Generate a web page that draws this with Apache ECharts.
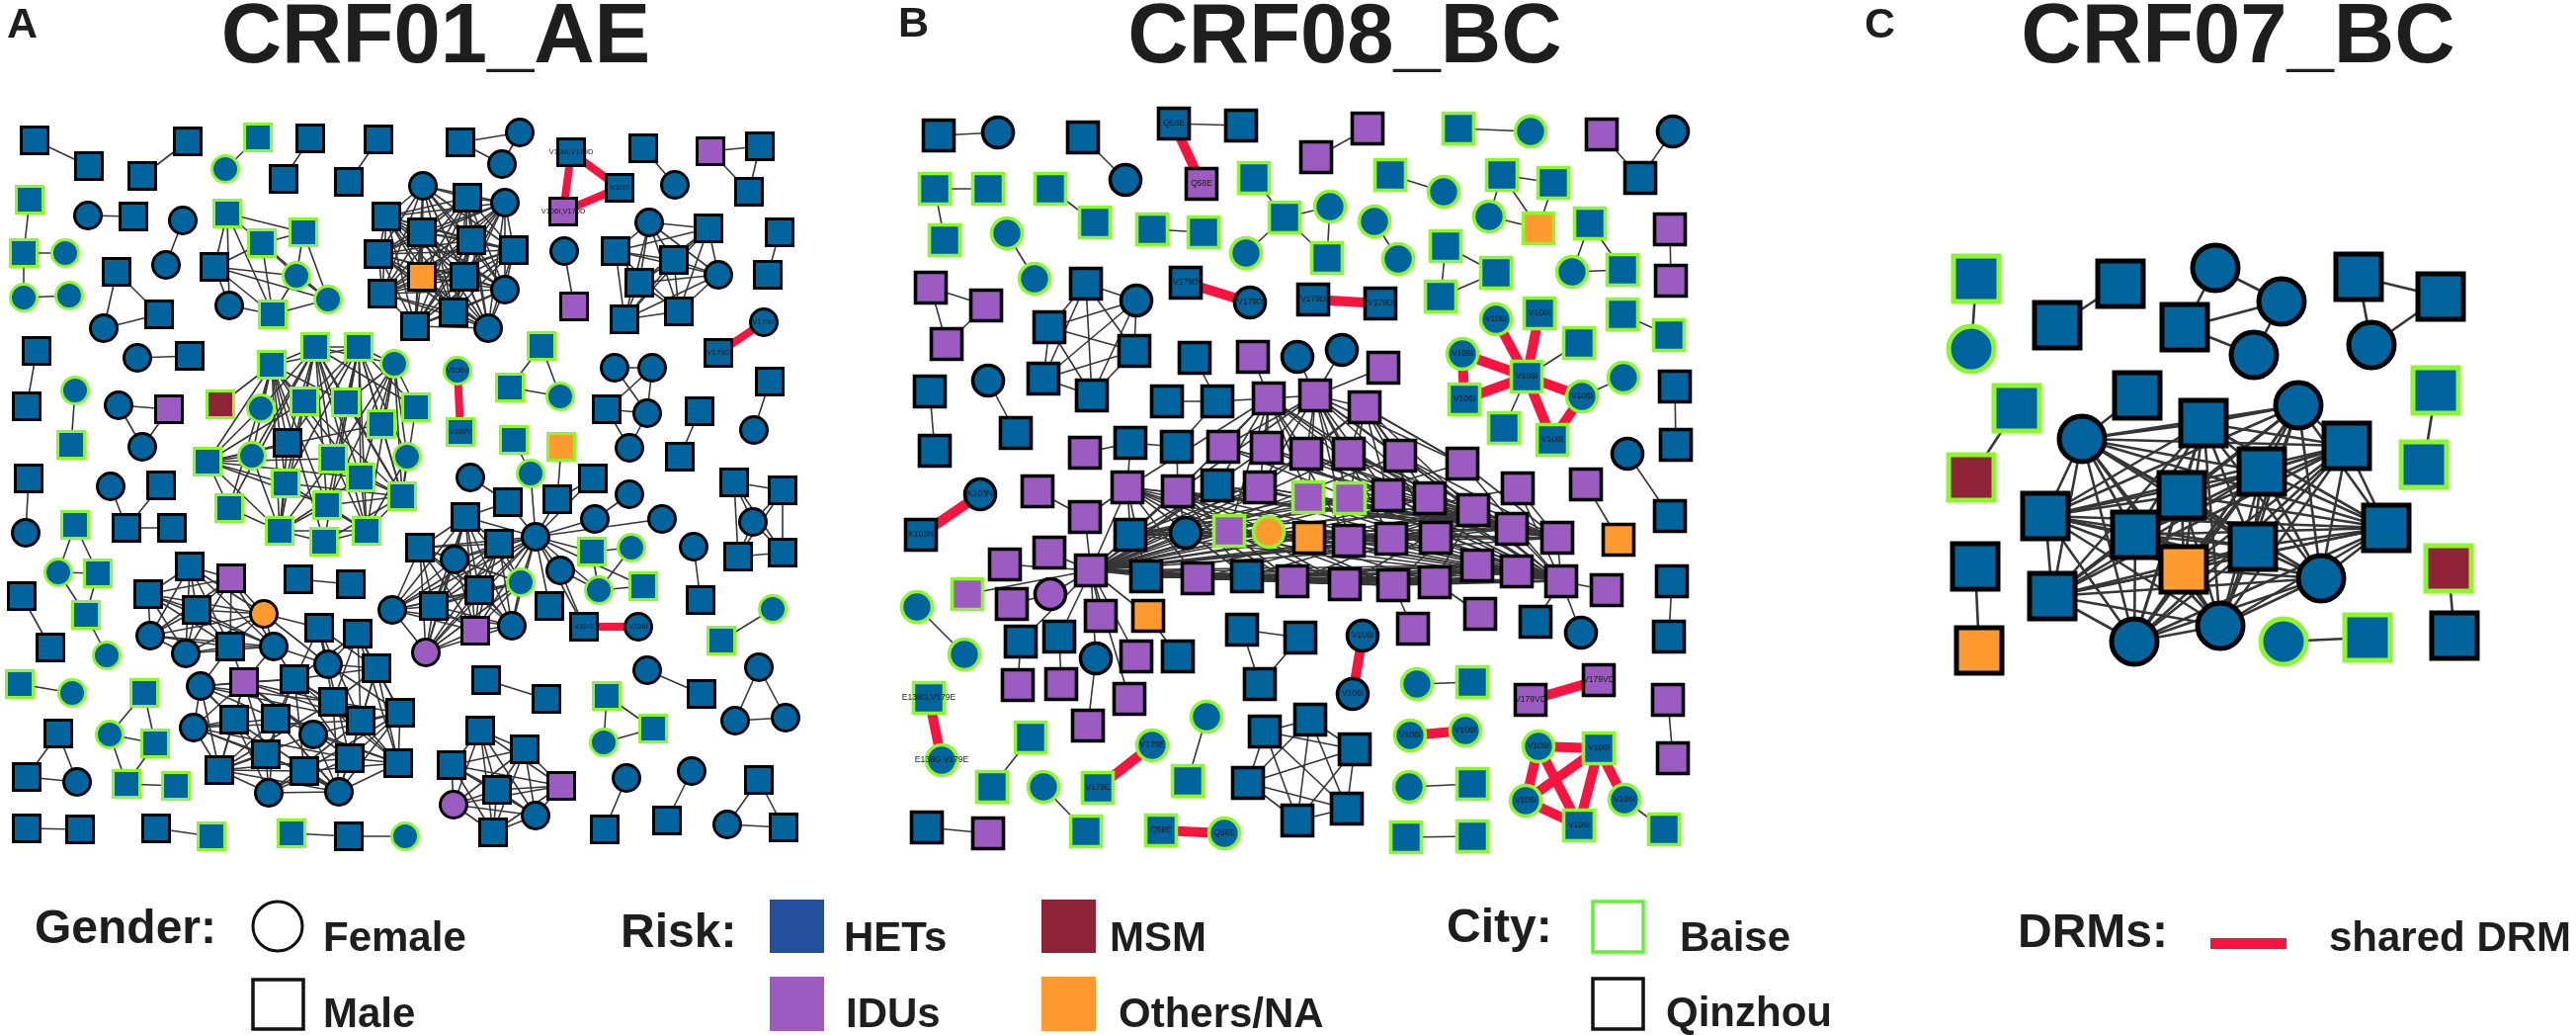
<!DOCTYPE html>
<html lang="en">
  <head>
    <meta charset="UTF-8" />
    <title>CRF01_AE, CRF08_BC, CRF07_BC transmission networks</title>
    <style>
      html, body { margin: 0; padding: 0; background: #fff; }
      #chart { width: 2607px; height: 1047px; }
    </style>
  </head>
  <body>
  <div id="chart"></div>
  <script src="https://cdn.jsdelivr.net/npm/echarts@6/dist/echarts.min.js"></script>
  <script>
    // node = [x, y, shape+risk+city, label]   s/c  H/I/M/O  B/Q
    // cluster = [nodes, black links, red links]
    // links: "0-1" one edge, "0,1,2" every pair of those, "3>0,1,2" 3 to each of those, "all" every pair of the cluster
    var clustersA = [
      [[[35,142,'sHQ'],[90,168,'sHQ']], '0-1'],
      [[[190,143,'sHQ'],[144,178,'sHQ']], '0-1'],
      [[[261,139,'sHB'],[228,171,'cHB']], '0-1'],
      [[[314,140,'sHQ'],[287,181,'sHQ']], '0-1'],
      [[[383,141,'sHQ'],[353,184,'sHQ']], '0-1'],
      [[[466,144,'sHQ'],[526,134,'cHQ'],[508,166,'cHQ']], 'all'],
      [[[578,154,'sHQ','V106I,V179D'],[627,190,'sHQ','V106I'],[570,214,'sIQ','V106I,V179D']], '', 'all'],
      [[[651,150,'sHQ'],[683,187,'cHQ']], '0-1'],
      [[[719,153,'sIQ'],[769,148,'sHQ'],[758,194,'sHQ']], 'all'],
      [[[30,202,'sHB'],[24,256,'sHB'],[66,256,'cHB'],[24,301,'cHB'],[70,299,'cHB']], '0-1 1-2 1-3 3-4'],
      [[[89,218,'cHQ'],[135,219,'sHQ']], '0-1'],
      [[[185,223,'cHQ'],[168,268,'cHQ']], '0-1'],
      [[[118,275,'sHQ'],[161,318,'sHQ'],[105,332,'cHQ']], 'all'],
      [[[230,216,'sHB'],[307,235,'sHB'],[265,246,'sHB'],[217,270,'sHQ'],[300,279,'cHB'],[332,303,'cHB'],[232,309,'cHQ'],[276,318,'sHB']],
        '0-1 0-2 0-3 0-7 1-2 1-4 1-5 2-3 2-4 2-5 2-7 3-4 3-5 3-6 3-7 4-5 4-7 5-7 6-7 0-6'],
      [[[428,188,'cHQ'],[473,200,'sHQ'],[511,205,'cHQ'],[391,219,'sHQ'],[427,235,'sHQ'],[477,243,'sHQ'],[520,253,'sHQ'],[383,257,'sHQ'],
        [427,280,'sOQ'],[470,280,'sHQ'],[511,293,'cHQ'],[387,297,'sHQ'],[459,316,'sHQ'],[420,330,'sHQ'],[494,332,'cHQ']], 'all'],
      [[[571,254,'cHQ'],[581,310,'sIQ']], '0-1'],
      [[[657,225,'cHQ'],[717,231,'sHQ'],[623,254,'sHQ'],[682,263,'sHQ'],[727,278,'cHQ'],[647,286,'sHQ'],[687,315,'sHQ'],[632,323,'sHQ']], 'all'],
      [[[789,235,'sHQ'],[777,278,'sHQ']], '0-1'],
      [[[773,326,'cHQ','V179D'],[727,357,'sHQ','V179D']], '', '0-1'],
      [[[37,355,'sHQ'],[27,411,'sHQ']], '0-1'],
      [[[139,362,'cHQ'],[192,360,'sHQ']], '0-1'],
      [[[76,395,'cHB'],[72,450,'sHB']], '0-1'],
      [[[120,410,'cHQ'],[171,414,'sIQ'],[144,452,'cHQ']], 'all'],
      [[[275,369,'sHB'],[319,351,'sHB'],[363,351,'sHB'],[399,368,'cHB'],[223,409,'sMB'],[264,413,'cHB'],[308,406,'sHB'],[350,407,'sHB'],
        [421,412,'sHB'],[386,429,'sHB'],[291,448,'sHQ'],[210,467,'sHB'],[255,461,'cHB'],[337,464,'sHB'],[412,462,'cHB'],[289,489,'sHB'],
        [365,483,'sHB'],[407,502,'sHB'],[232,514,'sHB'],[331,511,'sHB'],[283,537,'sHB'],[371,537,'sHB'],[328,548,'sHB']],
        '0>1,2,4,5,6,7,10,11,12,13,15,16,18,19,20,22 1>2,3,5,6,7,8,10,12,13,15,16,17,18,19,20,21 ' +
        '2>3,6,7,8,9,10,13,14,15,16,17,19,21,22 3>7,8,9,13,14,16,17,19,21 ' +
        '11>5,6,10,12,13,15,16,18,19,20,9 17>6,7,9,13,14,15,16,19,21,22,8 20>10,12,13,15,16,18,19,21,22 21>13,14,15,16,19,22'],
      [[[463,375,'cHB','V106V'],[466,437,'sHB','V106V']], '', '0-1'],
      [[[548,350,'sHB'],[516,392,'sHB'],[567,401,'cHB']], 'all'],
      [[[622,372,'cHQ'],[660,372,'cHQ'],[614,414,'sHQ'],[655,418,'cHQ'],[637,453,'cHQ']], '0-1 0-3 1-3 1-2 2-3 2-4 3-4'],
      [[[779,386,'sHQ'],[763,435,'cHQ']], '0-1'],
      [[[708,416,'sHQ'],[688,462,'sHQ']], '0-1'],
      [[[29,484,'sHQ'],[26,539,'cHQ']], '0-1'],
      [[[112,492,'cHQ'],[163,491,'sHQ'],[128,534,'sHQ'],[174,534,'sHQ']], '0-2 1-2 2-3'],
      [[[568,452,'sOB'],[537,479,'cHB'],[600,484,'sHQ'],[476,483,'cHQ'],[514,508,'sHQ'],[564,505,'sHQ'],[637,500,'cHQ'],[471,523,'sHQ'],
        [602,525,'cHQ'],[670,525,'cHQ'],[425,554,'sHQ'],[505,550,'sHQ'],[542,543,'cHQ'],[460,566,'cHQ'],[599,558,'sHB'],[639,554,'cHB'],
        [567,577,'cHQ'],[485,597,'sHQ'],[527,589,'cHB'],[606,597,'cHB'],[651,593,'sHB'],[556,613,'sHQ'],[439,613,'sHQ'],[397,617,'cHQ'],
        [591,634,'sHQ','V106I'],[646,634,'cHQ','V106I'],[481,638,'sIQ'],[518,633,'cHQ'],[431,660,'cIQ'],[520,445,'sHB']],
        '29-1 1-12 0-5 5-12 2-12 2-5 4-12 7-12 8-12 9-12 6-8 3-4 4-7 11-12 10-12 13-12 14-12 16-12 17-12 18-12 19-12 20-12 21-12 22-12 23-12 24-12 26-12 27-12 28-12 14-15 14-19 15-19 19-20 16-24 16-19 ' +
        '7,10,11,13,17,18,22,23,26,27,28', '24-25'],
      [[[743,488,'sHQ'],[792,496,'sHQ'],[762,528,'cHQ'],[747,563,'sHQ'],[792,559,'sHQ']], 'all'],
      [[[702,553,'cHQ'],[709,607,'sHQ']], '0-1'],
      [[[782,616,'cHB'],[730,648,'sHB']], '0-1'],
      [[[76,531,'sHB'],[59,579,'cHB'],[99,580,'sHB'],[87,622,'sHB'],[108,663,'cHB']], '0-1 0-2 1-2 1-3 2-3 3-4'],
      [[[22,603,'sHQ'],[51,655,'sHQ']], '0-1'],
      [[[192,573,'sHQ'],[234,585,'sIQ'],[150,601,'sHQ'],[199,617,'sHQ'],[267,621,'cOQ'],[152,643,'cHQ'],[188,661,'cHQ'],[233,654,'sHQ'],[277,654,'cHQ'],
        [323,635,'sHQ'],[362,641,'sHQ'],[332,672,'cHQ'],[381,676,'sHQ'],[203,694,'cHQ'],[247,690,'sIQ'],[298,687,'sHQ'],[337,710,'sHQ'],[405,721,'sHQ'],
        [196,736,'cHQ'],[237,728,'sHQ'],[279,727,'sHQ'],[365,729,'sHQ'],[317,743,'cHQ'],[269,763,'sHQ'],[354,767,'sHQ'],[403,772,'sHQ'],[222,779,'sHQ'],
        [308,780,'sHQ'],[343,801,'cHQ'],[272,802,'cHQ']],
        '0,1,2,3,4,5,6,7,8 4-9 4-11 8-11 8-15 7-14 8-14 7-13 ' +
        '9>11,12,15,16,21,24 10>11,12,15,16,17,21,25 12>11,15,16,17,21,24,25 13>14,18,19,20,23,26,15,16,21 17>11,16,21,24,25,28,27,22 ' +
        '18>14,19,20,23,26,27,24,21 26>14,19,20,23,27,24,28,29,16,22 25>16,21,24,27,28,22,15,20 28>27,29,24,23,22,16,21,20,19,14 29>27,23,24,20,19,21 ' +
        '14>15,16,19,20,21,22,23,24 15>16,20,21,23,24,27'],
      [[[302,586,'sHQ'],[355,591,'sHQ']], '0-1'],
      [[[20,692,'sHB'],[73,701,'cHB']], '0-1'],
      [[[146,701,'sHB'],[111,743,'cHB'],[157,752,'sHB'],[128,793,'sHB'],[178,795,'sHB']], '0-1 0-2 1-2 1-3 2-3 3-4'],
      [[[59,742,'sHQ'],[27,786,'sHQ'],[78,791,'cHQ']], 'all'],
      [[[492,688,'sHQ'],[553,707,'sHQ']], '0-1'],
      [[[655,678,'cHQ'],[710,702,'sHQ']], '0-1'],
      [[[768,675,'cHQ'],[744,729,'cHQ'],[795,726,'cHQ']], 'all'],
      [[[614,704,'sHB'],[661,737,'sHB'],[611,751,'cHB']], 'all'],
      [[[486,739,'sHQ'],[531,758,'sHQ'],[457,774,'sHQ'],[568,795,'sIQ'],[503,799,'sHQ'],[459,814,'cIQ'],[542,825,'cHQ'],[499,842,'sHQ']], 'all'],
      [[[634,787,'cHQ'],[612,839,'sHQ']], '0-1'],
      [[[700,780,'cHQ'],[675,830,'sHQ']], '0-1'],
      [[[768,789,'sHQ'],[736,834,'cHQ'],[793,837,'sHQ']], 'all'],
      [[[27,838,'sHQ'],[81,839,'sHQ']], '0-1'],
      [[[158,838,'sHQ'],[214,846,'sHB']], '0-1'],
      [[[295,843,'sHB'],[353,846,'sHQ'],[410,846,'cHB']], '0-1 1-2']
    ];

    var clustersB = [
      [[[950,137,'sHQ'],[1010,134,'cHQ']], '0-1'],
      [[[1096,139,'sHQ'],[1139,182,'cHQ']], '0-1'],
      [[[1188,125,'sHQ','Q58E'],[1256,127,'sHQ'],[1216,186,'sIQ','Q58E']], '0-1', '0-2'],
      [[[1332,159,'sIQ'],[1384,130,'sIQ']], '0-1'],
      [[[1476,130,'sHB'],[1549,133,'cHB']], '0-1'],
      [[[1621,136,'sIQ'],[1693,133,'cHQ'],[1660,180,'sHQ']], '0-2 1-2'],
      [[[946,191,'sHB'],[1000,191,'sHB'],[956,243,'sHB']], '0-1 0-2'],
      [[[1063,191,'sHB'],[1108,225,'sHB']], '0-1'],
      [[[1166,232,'sHB'],[1218,235,'sHB']], '0-1'],
      [[[1269,180,'sHB'],[1300,220,'sHB'],[1346,209,'cHB'],[1343,261,'sHB'],[1261,256,'cHB']], '0-1 1-2 1-3 1-4 2-3'],
      [[[1391,224,'cHB'],[1415,262,'cHB']], '0-1'],
      [[[1407,177,'sHB'],[1461,194,'cHB']], '0-1'],
      [[[1520,177,'sHB'],[1572,185,'sHB'],[1507,219,'cHB'],[1557,231,'sOB']], '0-1 0-2 0-3 1-3 2-3'],
      [[[1609,226,'sHB'],[1591,275,'cHB'],[1642,273,'sHB']], 'all'],
      [[[1690,232,'sIQ'],[1691,284,'sIQ']], '0-1'],
      [[[1019,236,'cHB'],[1047,282,'cHB']], '0-1'],
      [[[942,291,'sIQ'],[998,309,'sIQ'],[958,348,'sIQ']], 'all'],
      [[[1099,287,'sHQ'],[1150,304,'cHQ'],[1062,331,'sHQ'],[1148,355,'sHQ'],[1056,383,'sHQ'],[1105,400,'sHQ']], 'all'],
      [[[1200,286,'sHQ','V179D'],[1265,306,'cHQ','V179D']], '', '0-1'],
      [[[1329,303,'sHQ','V179D'],[1397,307,'sHQ','V179D']], '', '0-1'],
      [[[1463,249,'sHB'],[1514,276,'sHB'],[1458,300,'sHB']], 'all'],
      [[[1514,323,'cHB','V106I'],[1558,317,'sHB','V106I'],[1598,347,'sHB'],[1480,358,'cHB','V106I'],[1545,381,'sHB','V106I'],
        [1482,404,'sHB','V106I'],[1601,401,'cHB','V106I'],[1643,382,'cHB'],[1522,433,'sHB'],[1571,445,'sHB','V106I']],
        '2-4 4-8 6-7', '0-4 1-4 3-4 4-5 4-6 4-9 3-5 6-9'],
      [[[1642,318,'sHB'],[1689,339,'sHB']], '0-1'],
      [[[1695,391,'sHQ'],[1696,450,'sHQ']], '0-1'],
      [[[941,396,'sHQ'],[946,456,'sHQ']], '0-1'],
      [[[1000,385,'cHQ'],[1028,438,'sHQ']], '0-1'],
      [[[1209,362,'sHQ'],[1268,361,'sIQ'],[1313,361,'cHQ'],[1358,354,'cHQ'],[1400,372,'sIQ'],[1181,406,'sHQ'],[1232,406,'sHQ'],[1284,403,'sIQ'],
        [1331,400,'sIQ'],[1381,412,'sIQ'],[1098,458,'sIQ'],[1144,448,'sHQ'],[1191,452,'sHQ'],[1238,452,'sIQ'],[1282,453,'sIQ'],[1322,459,'sIQ'],
        [1365,459,'sIQ'],[1417,461,'sIQ'],[1480,469,'sIQ'],[1050,497,'sIQ'],[1141,493,'sIQ'],[1192,497,'sIQ'],[1232,491,'sHQ'],[1275,493,'sIQ'],
        [1324,503,'sIB'],[1366,504,'sIB'],[1405,501,'sIQ'],[1447,504,'sIQ'],[1536,494,'sIQ'],[1491,516,'sIQ'],[1530,535,'sIQ'],[1098,523,'sIQ'],
        [1144,541,'sHQ'],[1200,539,'cHQ'],[1244,537,'sIB'],[1284,538,'cOB'],[1325,544,'sOQ'],[1365,547,'sIQ'],[1408,545,'sIQ'],[1453,544,'sIQ'],
        [1576,544,'sIQ'],[1062,559,'sIQ'],[1017,571,'sIQ'],[1104,577,'sIQ'],[1160,583,'sHQ'],[1212,585,'sIQ'],[1262,583,'sHQ'],[1308,588,'sIQ'],
        [1361,591,'sIQ'],[1410,592,'sIQ'],[1452,589,'sIQ'],[1495,572,'sIQ'],[1535,578,'sIQ'],[1580,588,'sIQ'],[1626,597,'sIQ'],[979,601,'sIB'],
        [1024,611,'sIQ'],[1063,601,'cIQ'],[1114,623,'sIQ'],[1162,623,'sOQ'],[1033,649,'sHQ'],[1072,644,'sHQ'],[1109,666,'cHQ'],[1150,664,'sIQ'],
        [1192,664,'sHQ'],[1030,693,'sIQ'],[1074,692,'sIQ'],[1143,707,'sIQ'],[1101,734,'sIQ'],[1430,636,'sIQ'],[1498,621,'sIQ'],[1554,629,'sHQ'],[1600,640,'cHQ']],
        '43,44,45,46,47,48,49,50,51,52,53 ' +
        '43>13,14,15,16,17,18,20,21,22,23,24,25,26,27,28,29,30,32,33,34,35,36,37,38,39,40 ' +
        '53>13,14,15,16,17,18,20,21,22,23,24,25,26,27,28,29,30,32,33,34,35,36,37,38,39,40 ' +
        '32>20,21,22,23,24,25,26,27,29,30,40,39,38 40>13,15,16,17,18,20,21,22,23,26,27,28,29,30,33,34,37 ' +
        '30>13,14,15,16,17,20,21,22,23,24,25,26,27,33,36 7>13,14,15,16,20,21,22,23,24,26,27,34,37 8>13,14,15,16,17,18,21,23,24,25,26,27,29,37,38 ' +
        '9>15,16,17,18,23,25,26,27,29,39 20>44,45,46,47,48,49,50 29>44,45,46,47,48,49,50 21>33,34,46,47,48,49 ' +
        '0-6 5-6 6-12 6-7 1-7 2-8 3-8 4-8 7-8 9-8 9-17 9-18 10-11 11-12 11-20 12-21 31-19 31-20 31-43 41-43 42-43 55-43 57-43 56-57 ' +
        '58-43 59-43 60-43 61-43 62-43 63-43 67-43 59-64 62-68 61-66 60-65 49-69 50-70 53-71 53-72 53-54'],
      [[[1605,490,'sIQ'],[1638,546,'sOQ']], '0-1'],
      [[[1647,459,'cHQ'],[1690,522,'sHQ']], '0-1'],
      [[[1692,588,'sHQ'],[1689,644,'sHQ']], '0-1'],
      [[[928,614,'cHB'],[976,662,'cHB']], '0-1'],
      [[[932,541,'sHQ','K103N'],[992,500,'cHQ','K103N']], '', '0-1'],
      [[[1257,637,'sHQ'],[1316,645,'sHQ'],[1275,692,'sHQ']], 'all'],
      [[[1379,643,'cHQ','V106I'],[1369,702,'cHQ','V106I']], '', '0-1'],
      [[[1434,692,'cHB'],[1490,690,'sHB']], '0-1'],
      [[[1549,708,'sIQ','V179VD'],[1618,688,'sIQ','V179VD']], '', '0-1'],
      [[[1688,708,'sIQ'],[1693,767,'sIQ']], '0-1'],
      [[[940,706,'sHB','E138G,V179E'],[953,769,'cHB','E138G,V179E']], '', '0-1'],
      [[[1043,746,'sHB'],[1004,796,'sHB']], '0-1'],
      [[[1056,796,'cHB'],[1099,841,'sHB']], '0-1'],
      [[[1166,754,'cHB','V179E'],[1111,797,'sHB','V179E']], '', '0-1'],
      [[[1221,725,'cHB'],[1202,790,'sHB']], '0-1'],
      [[[938,837,'sHQ'],[1000,843,'sIQ']], '0-1'],
      [[[1175,840,'sHB','Q58E'],[1239,843,'cHB','Q58E']], '', '0-1'],
      [[[1326,728,'sHQ'],[1280,740,'sHQ'],[1371,758,'sHQ'],[1263,792,'sHQ'],[1363,818,'sHQ'],[1313,830,'sHQ']], 'all'],
      [[[1427,744,'cHB','V106I'],[1483,739,'cHB','V106I']], '', '0-1'],
      [[[1426,796,'cHB'],[1490,793,'sHB']], '0-1'],
      [[[1423,847,'sHB'],[1490,846,'sHB']], '0-1'],
      [[[1557,755,'cHB','V106I'],[1618,757,'sHB','V106I'],[1544,810,'cHB','V106I'],[1644,809,'cHB','V106I'],[1598,835,'sHB','V106I'],[1684,839,'sHB']],
        '3-5', '0-1 0-2 0-4 1-2 1-3 1-4 2-4']
    ];

    var clustersC = [
      [[[2000,282,'sHB'],[1995,353,'cHB']], '0-1'],
      [[[2146,287,'sHQ'],[2082,329,'sHQ']], '0-1'],
      [[[2211,331,'sHQ'],[2242,271,'cHQ'],[2309,305,'cHQ'],[2281,359,'cHQ']], '0-1 0-2 0-3 1-2 2-3'],
      [[[2387,280,'sHQ'],[2470,300,'sHQ'],[2400,349,'cHQ']], 'all'],
      [[[2041,413,'sHB'],[1995,483,'sMB']], '0-1'],
      [[[2465,395,'sHB'],[2453,470,'sHB']], '0-1'],
      [[[1999,573,'sHQ'],[2003,658,'sOQ']], '0-1'],
      [[[2478,575,'sMB'],[2484,643,'sHQ']], '0-1'],
      [[[2311,649,'cHB'],[2396,645,'sHB']], '0-1'],
      [[[2163,400,'sHQ'],[2107,444,'cHQ'],[2230,428,'sHQ'],[2326,410,'cHQ'],[2375,451,'sHQ'],[2289,477,'sHQ'],[2208,501,'sHQ'],[2070,522,'sHQ'],
        [2161,541,'sHQ'],[2415,534,'sHQ'],[2280,553,'sHQ'],[2210,576,'sOQ'],[2349,585,'cHQ'],[2077,603,'sHQ'],[2160,649,'cHQ'],[2247,633,'cHQ']],
        '0-1 1,2,3,4,5,6,7,8,9,10,11,12,13,14,15']
    ];

    var riskColors = { H: '#02649c', I: '#9b5bc0', M: '#8e2237', O: '#fe9a2f' };
    var cityColors = { B: '#8cf82c', Q: '#000000' };
    var panelTitles = ['CRF01_AE', 'CRF08_BC', 'CRF07_BC'];
    var panelLetters = ['A', 'B', 'C'];

    function parseLinks(spec, count) {
      var out = [];
      if (!spec) return out;
      if (spec === 'all') {
        var every = [];
        for (var n = 0; n < count; n++) every.push(n);
        spec = every.join(',');
      }
      spec.trim().split(/\s+/).forEach(function (tok) {
        if (tok.indexOf('-') > 0) {
          out.push(tok.split('-').map(Number));
        } else if (tok.indexOf('>') > 0) {
          var parts = tok.split('>');
          parts[1].split(',').forEach(function (t) { out.push([Number(parts[0]), Number(t)]); });
        } else {
          var ids = tok.split(',').map(Number);
          for (var i = 0; i < ids.length; i++) {
            for (var j = i + 1; j < ids.length; j++) out.push([ids[i], ids[j]]);
          }
        }
      });
      return out;
    }

    function makeGraph(name, clusters, size, border, edgeWidth, redWidth, labelSize) {
      var nodes = [], links = [];
      clusters.forEach(function (c) {
        var base = nodes.length;
        c[0].forEach(function (n) {
          var item = {
            value: [n[0], n[1]],
            symbol: n[2][0] === 's' ? 'rect' : 'circle',
            itemStyle: { color: riskColors[n[2][1]], borderColor: cityColors[n[2][2]], borderWidth: border }
          };
          if (n[3]) item.label = { show: true, formatter: n[3] };
          nodes.push(item);
        });
        parseLinks(c[1], c[0].length).forEach(function (p) {
          links.push({ source: base + p[0], target: base + p[1], lineStyle: { color: '#363636', width: edgeWidth } });
        });
        parseLinks(c[2], c[0].length).forEach(function (p) {
          links.push({ source: base + p[0], target: base + p[1], lineStyle: { color: '#f7153f', width: redWidth } });
        });
      });
      return {
        type: 'graph', name: name, coordinateSystem: 'cartesian2d', layout: 'none',
        symbolSize: size, data: nodes, links: links, silent: true, animation: false,
        lineStyle: { opacity: 1, curveness: 0 },
        label: { show: false, position: 'inside', fontFamily: 'Liberation Sans', fontSize: labelSize, color: '#1a1a1a' }
      };
    }

    // legend and heading text, y is the baseline
    function txt(text, x, y, size, align) {
      return {
        type: 'text', silent: true,
        style: {
          text: text, x: x, y: y - size * 0.3, fill: '#1e1e1e', align: align || 'left', verticalAlign: 'middle',
          font: 'bold ' + size + 'px "Liberation Sans"'
        }
      };
    }
    function box(x, y, w, h, fill, stroke, lw) {
      return { type: 'rect', silent: true, shape: { x: x, y: y, width: w, height: h }, style: { fill: fill, stroke: stroke, lineWidth: lw || 0 } };
    }

    var legend = [
      txt('Gender:', 35, 955, 48),
      { type: 'ellipse', silent: true, shape: { cx: 281, cy: 937, rx: 25, ry: 25 }, style: { fill: 'none', stroke: '#111', lineWidth: 3 } },
      txt('Female', 327, 963, 42),
      box(256, 991, 51, 50, 'none', '#111', 3.5),
      txt('Male', 327, 1040, 42),
      txt('Risk:', 628, 959, 48),
      box(779, 910, 55, 54, '#254f9c'),
      txt('HETs', 854, 963, 42),
      box(1054, 910, 55, 54, '#8e2338'),
      txt('MSM', 1123, 963, 42),
      box(779, 988, 55, 55, '#9b5bc0'),
      txt('IDUs', 856, 1040, 42),
      box(1054, 988, 55, 55, '#fe9a2f'),
      txt('Others/NA', 1132, 1040, 42),
      txt('City:', 1464, 954, 48),
      box(1612, 912, 51, 51, 'none', '#5cf52f', 3.5),
      txt('Baise', 1700, 963, 42),
      box(1612, 990, 51, 51, 'none', '#111', 3.5),
      txt('Qinzhou', 1686, 1039, 42),
      txt('DRMs:', 2042, 959, 48),
      box(2237, 949, 77, 11, '#f7153f'),
      txt('shared DRM', 2357, 963, 42),
      txt(panelLetters[0], 7, 39, 43),
      txt(panelLetters[1], 909, 38, 43),
      txt(panelLetters[2], 1887, 39, 43),
      txt(panelTitles[0], 441, 65, 85, 'center'),
      txt(panelTitles[1], 1361, 65, 85, 'center'),
      txt(panelTitles[2], 2265, 65, 85, 'center')
    ];

    var chart = echarts.init(document.getElementById('chart'), null, { renderer: 'canvas' });
    chart.setOption({
      animation: false,
      backgroundColor: '#ffffff',
      grid: { left: 0, right: 0, top: 0, bottom: 0 },
      xAxis: { type: 'value', min: 0, max: 2607, show: false },
      yAxis: { type: 'value', min: 0, max: 1047, inverse: true, show: false },
      series: [
        makeGraph('CRF01_AE', clustersA, 27, 3, 1.6, 8, 7.5),
        makeGraph('CRF08_BC', clustersB, 31, 3.6, 1.6, 10, 8.5),
        makeGraph('CRF07_BC', clustersC, 46, 5, 2.6, 8, 10)
      ],
      graphic: legend
    });
  </script>
  </body>
</html>
